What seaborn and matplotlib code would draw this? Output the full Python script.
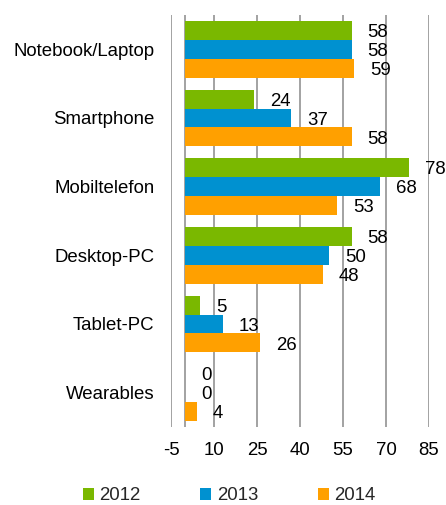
import matplotlib
matplotlib.use("Agg")
import matplotlib.pyplot as plt
import seaborn as sns
import pandas as pd
from matplotlib.patches import Patch

categories = ["Notebook/Laptop", "Smartphone", "Mobiltelefon", "Desktop-PC", "Tablet-PC", "Wearables"]
years = ["2012", "2013", "2014"]
v2012 = [58, 24, 78, 58, 5, 0]
v2013 = [58, 37, 68, 50, 13, 0]
v2014 = [59, 58, 53, 48, 26, 4]
xticks = [-5, 10, 25, 40, 55, 70, 85]
colors = ["#7AB800", "#0091D0", "#FFA000"]

rows = []
for yr, vals in zip(years, [v2012, v2013, v2014]):
    for c, v in zip(categories, vals):
        rows.append({"cat": c, "year": yr, "val": v})
df = pd.DataFrame(rows)

sns.set_theme(style="white")
plt.rcParams["font.family"] = ["Liberation Sans", "DejaVu Sans"]
FS = 13.4

fig = plt.figure(figsize=(4.46, 5.05), dpi=100)
ax = fig.add_axes([171/446, 1-427/505, (429-171)/446, (427-15)/505])

sns.barplot(data=df, y="cat", x="val", hue="year", order=categories, hue_order=years,
            palette=colors, orient="h", width=0.83, gap=0, saturation=1, ax=ax,
            legend=False, zorder=3, linewidth=0)

ax.set_xlim(-5, 85)
ax.set_ylim(5.5, -0.5)
ax.set_xticks(xticks)
ax.set_xticklabels([str(t) for t in xticks], fontsize=FS, color="black")
ax.tick_params(axis="x", length=0, pad=11)
ax.tick_params(axis="y", length=0, pad=12, labelsize=FS, labelcolor="black")
ax.set_xlabel("")
ax.set_ylabel("")
for s in ax.spines.values():
    s.set_visible(False)
for t in xticks:
    ax.axvline(t, color="#929292", linewidth=1.2, zorder=1)
ax.axvline(0, color="#929292", linewidth=1.2, zorder=1)

bw = 0.83 / 3
for i, (yr, vals) in enumerate(zip(years, [v2012, v2013, v2014])):
    for j, v in enumerate(vals):
        y = j + (i - 1) * bw
        ax.text(v + 5.6, y + 0.03, str(v), ha="left", va="center", fontsize=FS, color="black")

handles = [Patch(facecolor=c, edgecolor="none", label=y) for c, y in zip(colors, years)]
fig.legend(handles=handles, loc="center", bbox_to_anchor=(0.514, 0.018), ncol=3,
           frameon=False, fontsize=FS, handlelength=0.6, handleheight=0.6,
           handletextpad=0.3, columnspacing=3.2)

fig.savefig("out.png", dpi=100)
